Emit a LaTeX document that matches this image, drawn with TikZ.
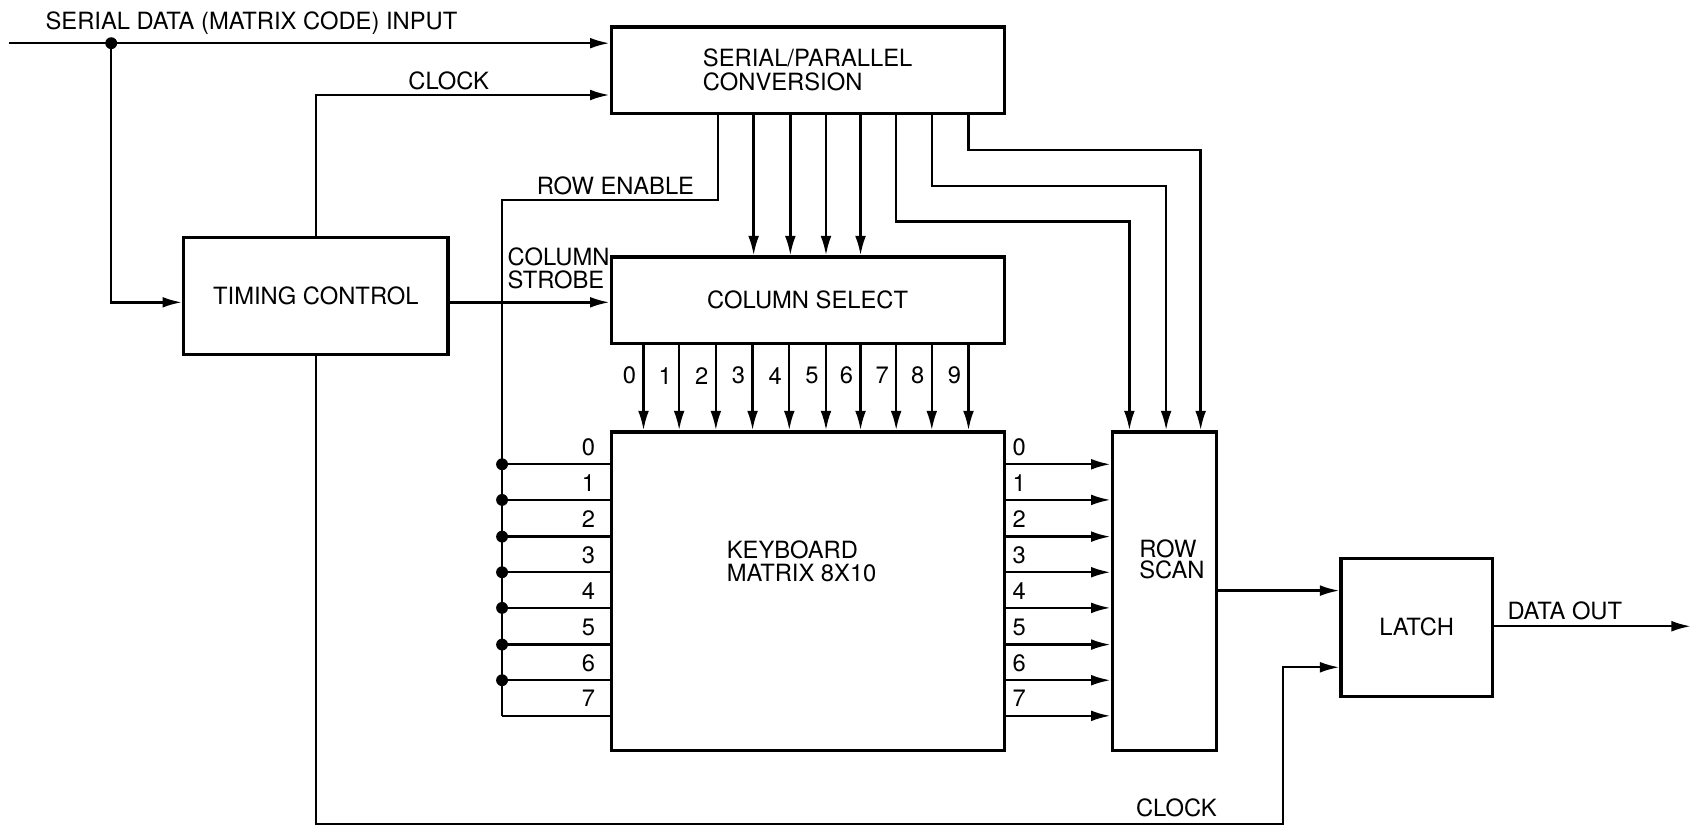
\documentclass[tikz,border=0pt]{standalone}
\usepackage{fontspec}
\setmainfont{TeX Gyre Heros}
\usetikzlibrary{arrows.meta}
\begin{document}
\begin{tikzpicture}[x=1pt,y=-1pt,
  font=\fontsize{22}{22}\selectfont,
  box/.style={draw, line width=3pt, inner sep=0pt},
  wire/.style={line width=2.2pt},
  arr/.style={wire, -{Latex[length=18pt,width=10pt]}},
  lbl/.style={inner sep=0pt}
]
\useasboundingbox (0,0) rectangle (1568,767);

% boxes
\node[box, minimum width=364pt, minimum height=80pt, align=left] (sp) at (748,65) {SERIAL/PARALLEL\\CONVERSION};
\node[box, minimum width=245pt, minimum height=108pt] (tc) at (292.5,274) {TIMING CONTROL};
\node[box, minimum width=364pt, minimum height=80pt] (cs) at (748,278) {COLUMN SELECT};
\node[box, minimum width=364pt, minimum height=295pt] (kb) at (748,547.5) {};
\node[box, minimum width=97pt, minimum height=295pt] (rs) at (1078.5,547.5) {};
\node[box, minimum width=140pt, minimum height=128pt] (la) at (1312,581) {LATCH};

\node[lbl, anchor=base west] (kbt1) at (673,517) {KEYBOARD};
\node[lbl, anchor=base west] (kbt2) at (673,539) {MATRIX 8X10};
\node[lbl, anchor=base west] (rst1) at (1055,516) {ROW};
\node[lbl, anchor=base west] (rst2) at (1055,536) {SCAN};

% labels
\node[lbl, anchor=base west] (tin) at (42,27) {SERIAL DATA (MATRIX CODE) INPUT};
\node[lbl, anchor=base west] (tck) at (378,83) {CLOCK};
\node[lbl, anchor=base west] (tre) at (497,180) {ROW ENABLE};
\node[lbl, anchor=base west] (tcs1) at (470,246) {COLUMN};
\node[lbl, anchor=base west] (tcs2) at (470,267) {STROBE};
\node[lbl, anchor=base west] (tdo) at (1396,574) {DATA OUT};
\node[lbl, anchor=base west] (tck2) at (1052,756) {CLOCK};

% coordinates
\coordinate (in) at (8,40);
\coordinate (j1) at (103,40);
\coordinate (r280) at (0,280);
\coordinate (ck) at (0,88);
\coordinate (re1) at (665,185);
\coordinate (re2) at (465,185);
\coordinate (rb) at (465,663);
\coordinate (bc) at (1188,763);
\coordinate (lc) at (0,618);
\coordinate (lr) at (0,547);
\coordinate (out) at (1566,580);

% serial input
\draw[arr] (in) -- (sp.west |- in);
\fill (j1) circle (5.5);
\draw[arr] (j1) |- (tc.west |- r280);
% clock to SP
\draw[arr] (tc.north) |- (sp.west |- ck);
% column strobe
\draw[arr] (tc.east |- r280) -- (cs.west |- r280);
% row enable
\draw[wire] (sp.south -| re1) -- (re1) -- (re2) -- (rb);
% SP to column select
\foreach \x in {698,732,765,797}
  \draw[arr] (sp.south -| \x,0) -- (cs.north -| \x,0);
% SP to row scan
\draw[arr] (sp.south -| 830,0) |- (1046,205) -- (rs.north -| 1046,0);
\draw[arr] (sp.south -| 863,0) |- (1080,172) -- (rs.north -| 1080,0);
\draw[arr] (sp.south -| 897,0) |- (1112,139) -- (rs.north -| 1112,0);
% column select outputs
\foreach \x [count=\i from 0] in {596,629,663,697,731,765,797,830,863,897}{
  \draw[arr] (cs.south -| \x,0) -- (kb.north -| \x,0);
  \node[lbl] (cl\i) at (\x-13,348) {\i};
}
% rows
\foreach \y [count=\i from 0] in {430,463,497,530,563,597,630,663}{
  \draw[wire] (465,\y) -- (kb.west |- 0,\y);
  \draw[arr] (kb.east |- 0,\y) -- (rs.west |- 0,\y);
  \node[lbl] (ll\i) at (545,\y-16) {\i};
  \node[lbl] (rl\i) at (944,\y-16) {\i};
}
\foreach \y in {430,463,497,530,563,597,630}
  \fill (465,\y) circle (5.5);
% row scan to latch
\draw[arr] (rs.east |- lr) -- (la.west |- lr);
% data out
\draw[arr] (la.east |- out) -- (out);
% bottom clock
\draw[arr] (tc.south) |- (bc) |- (la.west |- lc);
\end{tikzpicture}
\end{document}
